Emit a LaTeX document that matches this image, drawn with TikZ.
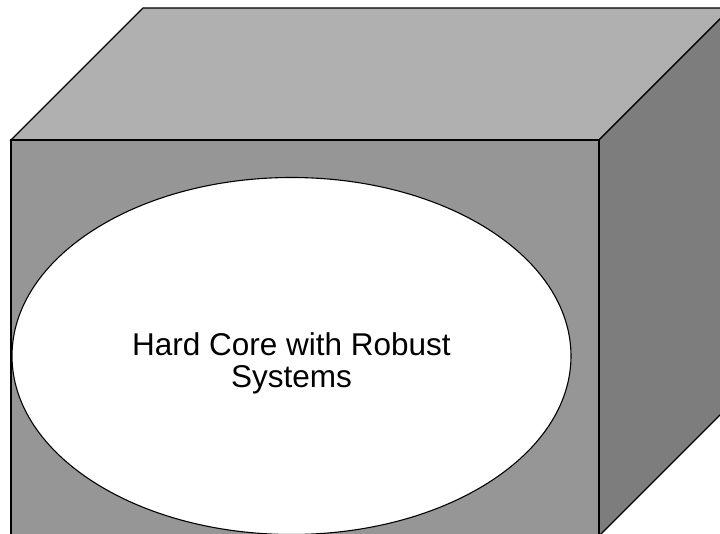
\documentclass[tikz,border=0pt]{standalone}
\usepackage{fontspec}
\setmainfont{Liberation Sans}
\usetikzlibrary{shapes.geometric}
\definecolor{topgray}{gray}{0.69}
\definecolor{frontgray}{gray}{0.59}
\definecolor{sidegray}{gray}{0.49}
\begin{document}
\begin{tikzpicture}[x=1pt,y=1pt,
  facet/.style={draw=black, line width=1.1pt, line join=miter},
  core/.style={ellipse, draw=black, line width=1.1pt, fill=white,
    minimum width=559pt, minimum height=357pt, inner sep=0pt},
  caption/.style={align=center, font=\fontsize{31.5}{32.5}\selectfont}]
\useasboundingbox (0,0) rectangle (720,533);
\clip (0,0) rectangle (720,533);
% corners of the box (front face, then the receding back edge)
\coordinate (F1) at (11,393);
\coordinate (F2) at (599,393);
\coordinate (F3) at (599,-3);
\coordinate (F4) at (11,-3);
\coordinate (B1) at (143,525);
\coordinate (B2) at (731,525);
\coordinate (B3) at (731,129);
% top, side and front faces
\draw[facet, fill=topgray] (F1) -- (B1) -- (B2) -- (F2) -- cycle;
\draw[facet, fill=sidegray] (F2) -- (B2) -- (B3) -- (F3) -- cycle;
\draw[facet, fill=frontgray] (F1) -- (F2) -- (F3) -- (F4) -- cycle;
% inner core
\node[core] (hardcore) at (291.5,177) {};
\node[caption] (corelabel) at (291.5,169.5) {Hard Core with Robust\\Systems};
\end{tikzpicture}
\end{document}
